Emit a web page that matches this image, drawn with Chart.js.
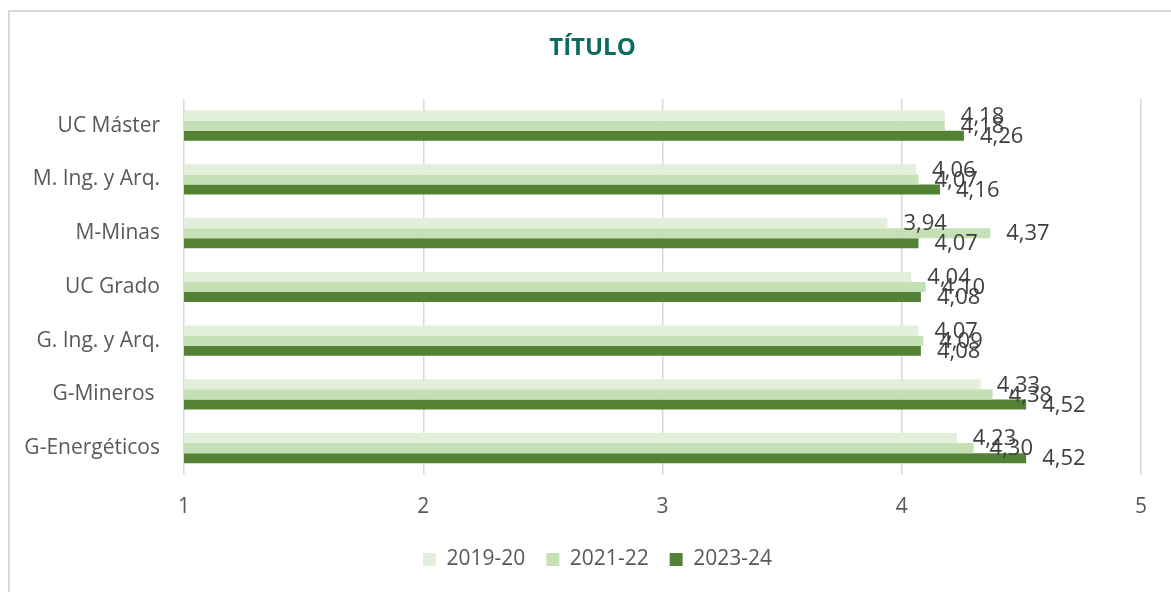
<!DOCTYPE html>
<html>
<head>
<meta charset="utf-8">
<script src="https://cdn.jsdelivr.net/npm/chart.js@4.4.1/dist/chart.umd.min.js"></script>
<style>
  html, body { margin: 0; padding: 0; background: #fff; }
  #wrap { position: relative; width: 1171px; height: 592px; overflow: hidden; }
  #frame { position: absolute; left: 8px; top: 10px; width: 1300px; height: 700px; border: 2px solid #d9d9d9; box-sizing: border-box; }
  #chart { position: absolute; left: 0; top: 0; }
</style>
</head>
<body>
<div id="wrap">
  <div id="frame"></div>
  <canvas id="chart" width="1171" height="592"></canvas>
</div>
<script>
const categories = ['UC Máster', 'M. Ing. y Arq.', 'M-Minas', 'UC Grado', 'G. Ing. y Arq.', 'G-Mineros ', 'G-Energéticos'];
const s2019 = [4.18, 4.06, 3.94, 4.04, 4.07, 4.33, 4.23];
const s2021 = [4.18, 4.07, 4.37, 4.10, 4.09, 4.38, 4.30];
const s2023 = [4.26, 4.16, 4.07, 4.08, 4.08, 4.52, 4.52];
const xTicks = [1, 2, 3, 4, 5];

const FONT = "'Open Sans', sans-serif";

// values written just right of each bar end, decimal comma
const valueLabels = {
    id: 'valueLabels',
    afterDatasetsDraw(chart) {
        const ctx = chart.ctx;
        ctx.save();
        ctx.font = '22px ' + FONT;
        ctx.fillStyle = '#404040';
        ctx.textAlign = 'left';
        ctx.textBaseline = 'middle';
        chart.data.datasets.forEach((ds, i) => {
            const meta = chart.getDatasetMeta(i);
            meta.data.forEach((bar, j) => {
                const txt = ds.data[j].toFixed(2).replace('.', ',');
                ctx.fillText(txt, bar.x + 16, bar.y + 1);
            });
        });
        ctx.restore();
    }
};

// title and legend are centred on the whole frame, not on the plot
const recentre = {
    id: 'recentre',
    afterLayout(chart) {
        if (chart.titleBlock) { chart.titleBlock.left += 22; chart.titleBlock.right += 22; }
        if (chart.legend) { chart.legend.left += 27; chart.legend.right += 27; }
    }
};

new Chart(document.getElementById('chart').getContext('2d'), {
    type: 'bar',
    data: {
        labels: categories,
        datasets: [
            { label: '2019-20', data: s2019, backgroundColor: '#E2EFDA' },
            { label: '2021-22', data: s2021, backgroundColor: '#C5E0B4' },
            { label: '2023-24', data: s2023, backgroundColor: '#548235' }
        ]
    },
    options: {
        indexAxis: 'y',
        responsive: false,
        animation: false,
        categoryPercentage: 0.56,
        barPercentage: 1,
        layout: { padding: { left: 0, right: 30, top: 0, bottom: 12 } },
        scales: {
            x: {
                min: 1, max: 5,
                afterBuildTicks: s => { s.ticks = xTicks.map(v => ({ value: v })); },
                afterFit: s => { s.height = 53; },
                grid: { color: '#d9d9d9', lineWidth: 1.5, drawTicks: false },
                border: { display: false },
                ticks: { color: '#595959', font: { family: FONT, size: 21 }, padding: 19 }
            },
            y: {
                afterFit: s => { s.width = 184; },
                grid: { display: false, drawTicks: false },
                border: { display: false },
                ticks: { color: '#595959', font: { family: FONT, size: 21 }, padding: 24 }
            }
        },
        plugins: {
            title: {
                display: true,
                text: 'TÍTULO',
                color: '#0B6B5F',
                font: { family: FONT, size: 24, weight: 'bold' },
                padding: { top: 34, bottom: 36 }
            },
            legend: {
                position: 'bottom',
                labels: {
                    boxWidth: 13, boxHeight: 13, padding: 21,
                    color: '#595959',
                    font: { family: FONT, size: 21 }
                }
            },
            tooltip: { enabled: false }
        }
    },
    plugins: [valueLabels, recentre]
});
</script>
</body>
</html>
